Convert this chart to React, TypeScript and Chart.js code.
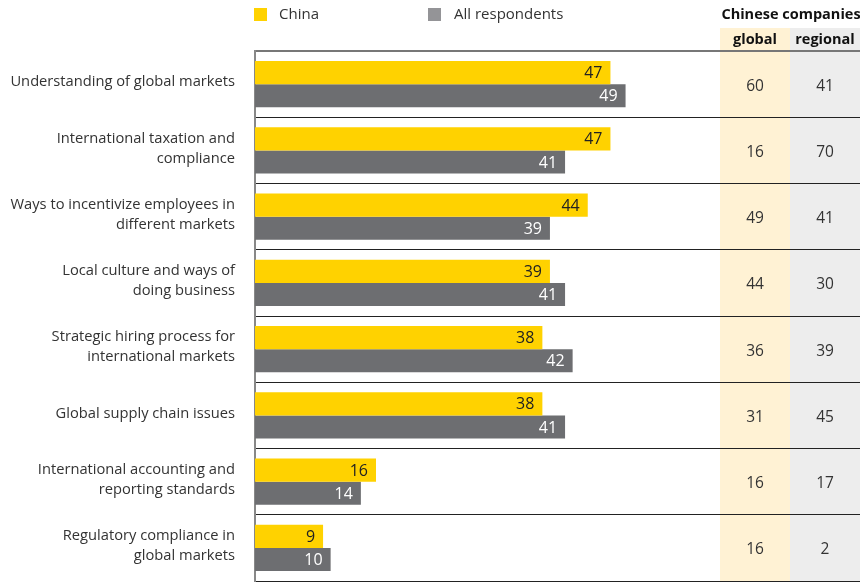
import React, { useEffect, useRef } from "react";
import { Chart, registerables } from "chart.js";

Chart.register(...registerables);

const categories: string[][] = [
  ["Understanding of global markets"],
  ["International taxation and", "compliance"],
  ["Ways to incentivize employees in", "different markets"],
  ["Local culture and ways of", "doing business"],
  ["Strategic hiring process for", "international markets"],
  ["Global supply chain issues"],
  ["International accounting and", "reporting standards"],
  ["Regulatory compliance in", "global markets"],
];
const chinaValues = [47, 47, 44, 39, 38, 38, 16, 9];
const allValues = [49, 41, 39, 41, 42, 41, 14, 10];
const globalValues = [60, 16, 49, 44, 36, 31, 16, 16];
const regionalValues = [41, 70, 41, 30, 39, 45, 17, 2];
const seriesNames = ["China", "All respondents"];
const tableTitle = "Chinese companies";
const tableColumns = ["global", "regional"];

const FONT = "'Open Sans', sans-serif";
const YELLOW = "#FFD200";
const GRAY = "#6D6E71";

const overlayPlugin = {
  id: "overlay",
  beforeDraw(chart: any) {
    const { ctx, chartArea } = chart;
    const r = chartArea.right;
    ctx.save();
    ctx.fillStyle = "#FFF2D4";
    ctx.fillRect(r - 140, 28, 70, chartArea.bottom - 28);
    ctx.fillStyle = "#EDEDED";
    ctx.fillRect(r - 70, 28, 70, chartArea.bottom - 28);
    ctx.restore();
  },
  afterDatasetsDraw(chart: any) {
    const { ctx } = chart;
    ctx.save();
    ctx.font = `16px ${FONT}`;
    ctx.textAlign = "right";
    ctx.textBaseline = "middle";
    chart.data.datasets.forEach((ds: any, di: number) => {
      const meta = chart.getDatasetMeta(di);
      meta.data.forEach((bar: any, i: number) => {
        ctx.fillStyle = di === 0 ? "#222222" : "#FFFFFF";
        ctx.fillText(String(ds.data[i]), bar.x - 8, bar.y + 1);
      });
    });
    ctx.restore();
  },
  afterDraw(chart: any) {
    const { ctx, chartArea, scales } = chart;
    const r = chartArea.right;
    ctx.save();
    // legend
    ctx.fillStyle = YELLOW;
    ctx.fillRect(254, 8, 13, 13);
    ctx.fillStyle = "#949497";
    ctx.fillRect(428, 8, 13, 13);
    ctx.fillStyle = "#333333";
    ctx.font = `15px ${FONT}`;
    ctx.textAlign = "left";
    ctx.textBaseline = "middle";
    ctx.fillText(seriesNames[0], 279, 15);
    ctx.fillText(seriesNames[1], 454, 15);
    // table header
    ctx.fillStyle = "#111111";
    ctx.font = `bold 14.5px ${FONT}`;
    ctx.textAlign = "center";
    ctx.fillText(tableTitle, r - 69, 15);
    ctx.fillText(tableColumns[0], r - 105, 40);
    ctx.fillText(tableColumns[1], r - 35, 40);
    // table values
    ctx.font = `15.5px ${FONT}`;
    ctx.fillStyle = "#333333";
    const ys = scales.y;
    categories.forEach((_, i) => {
      const y = ys.getPixelForValue(i);
      ctx.fillText(String(globalValues[i]), r - 105, y + 2);
      ctx.fillText(String(regionalValues[i]), r - 35, y + 2);
    });
    ctx.restore();
  },
};

export default function App() {
  const ref = useRef<HTMLCanvasElement>(null);
  useEffect(() => {
    document.body.style.margin = "0";
    const n = categories.length;
    const chart = new Chart(ref.current!, {
      type: "bar",
      data: {
        labels: categories,
        datasets: [
          {
            label: seriesNames[0],
            data: chinaValues,
            backgroundColor: YELLOW,
            categoryPercentage: 0.7,
            barPercentage: 1.0,
          },
          {
            label: seriesNames[1],
            data: allValues,
            backgroundColor: GRAY,
            categoryPercentage: 0.7,
            barPercentage: 1.0,
          },
        ],
      },
      options: {
        indexAxis: "y",
        animation: false,
        responsive: true,
        maintainAspectRatio: false,
        layout: { padding: { top: 51, bottom: 1, left: 0, right: 0 } },
        plugins: {
          legend: { display: false },
          tooltip: { enabled: false },
        },
        scales: {
          x: {
            display: false,
            min: 0,
            max: 80,
          },
          y: {
            afterFit(scale: any) {
              scale.width = 255;
              scale.paddingTop = 0;
              scale.paddingBottom = 0;
            },
            border: { display: true, color: "#888888", width: 2 },
            grid: {
              offset: true,
              drawTicks: false,
              color: (c: any) => (c.index === 0 || c.index === n ? "#777777" : "#222222"),
              lineWidth: (c: any) => (c.index === 0 || c.index === n ? 2 : 1),
            },
            ticks: {
              padding: 20,
              labelOffset: -2,
              color: "#333333",
              font: { family: FONT, size: 14.7, lineHeight: 1.36 },
            },
          },
        },
      },
      plugins: [overlayPlugin],
    });
    return () => chart.destroy();
  }, []);
  return (
    <div style={{ width: 860, height: 582, position: "relative" }}>
      <canvas ref={ref} />
    </div>
  );
}
